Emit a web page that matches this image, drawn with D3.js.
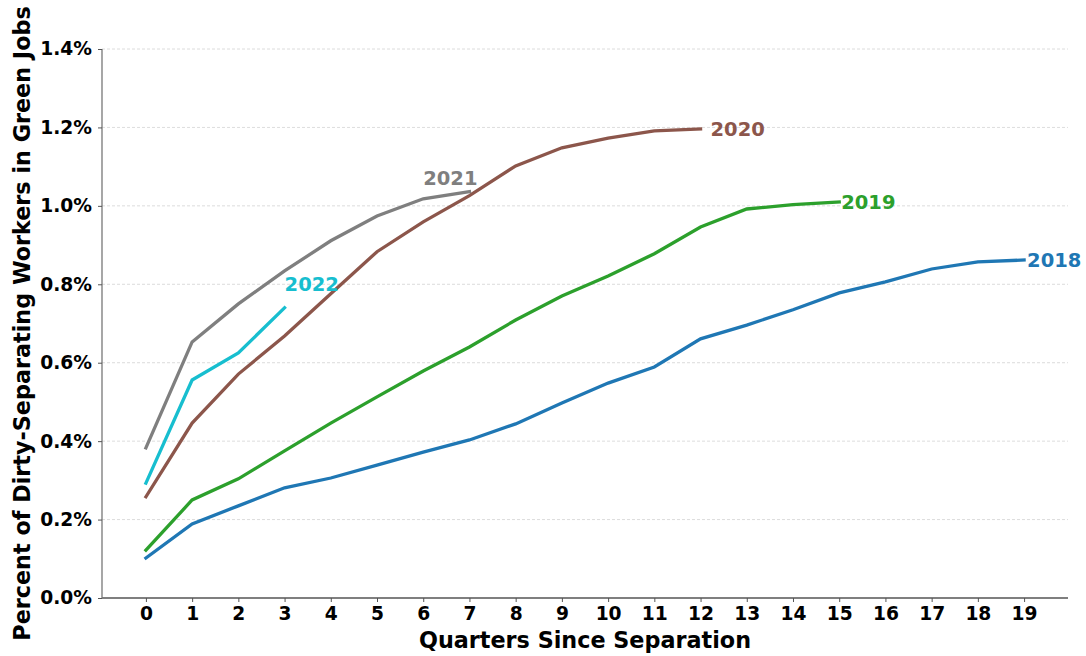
<!DOCTYPE html>
<html><head><meta charset="utf-8">
<script src="https://cdn.jsdelivr.net/npm/d3@7"></script>
<style>body{margin:0;background:#fff}svg{display:block}text{font-family:"DejaVu Sans",sans-serif;font-weight:bold}</style>
</head><body>
<svg id="c" width="1086" height="656"></svg>
<script>
const quarters = d3.range(0, 20);
const yTicks = [0, 0.2, 0.4, 0.6, 0.8, 1.0, 1.2, 1.4];
const s2018 = [0.102,0.189,0.235,0.281,0.306,0.339,0.372,0.403,0.444,0.497,0.548,0.589,0.661,0.696,0.735,0.778,0.806,0.839,0.857,0.862];
const s2019 = [0.122,0.250,0.304,0.375,0.446,0.513,0.579,0.640,0.709,0.770,0.821,0.878,0.946,0.992,1.003,1.010];
const s2020 = [0.258,0.446,0.571,0.668,0.776,0.883,0.959,1.026,1.102,1.148,1.173,1.191,1.196];
const s2021 = [0.383,0.653,0.750,0.834,0.911,0.974,1.018,1.036];
const s2022 = [0.293,0.556,0.625,0.740];
const seriesNames = ["2018","2019","2020","2021","2022"];
const seriesValues = [s2018, s2019, s2020, s2021, s2022];
const colors = ["#1f77b4","#2ca02c","#8c564b","#7f7f7f","#17becf"];

const svg = d3.select("#c");
const L = 102, R = 1068, T = 49, B = 598;
const x = d3.scaleLinear().domain([-0.95, 19.95]).range([L, R]);
const y = d3.scaleLinear().domain([0, 1.4]).range([B, T]);

// grid
svg.append("g").selectAll("line").data(yTicks.slice(1)).join("line")
  .attr("x1", L).attr("x2", R).attr("y1", d => y(d)).attr("y2", d => y(d))
  .attr("stroke", "#d3d3d3").attr("stroke-width", 0.8).attr("stroke-dasharray", "3,2");

// axes
const xa = svg.append("g").attr("transform", `translate(0,${B})`)
  .call(d3.axisBottom(x).tickValues(quarters).tickFormat(d3.format("d")).tickSize(4).tickPadding(5));
xa.select(".domain").attr("stroke", "#000").attr("stroke-width", 1.1).attr("d", `M${L},0H${R}`);
xa.selectAll(".tick line").attr("stroke", "#555");
xa.selectAll("text").style("font-size", "18.67px").style("fill", "#000").style("font-weight", "bold");

const ya = svg.append("g").attr("transform", `translate(${L},0)`)
  .call(d3.axisLeft(y).tickValues(yTicks).tickFormat(d => d.toFixed(1) + "%").tickSize(4).tickPadding(6));
ya.select(".domain").attr("stroke", "#777").attr("stroke-width", 1.3).attr("d", `M0,${B}V${T}`);
ya.selectAll(".tick line").attr("stroke", "#555");
ya.selectAll("text").style("font-size", "18.67px").style("fill", "#000").style("font-weight", "bold");

// lines
const line = d3.line().x((d, i) => x(i)).y(d => y(d));
seriesValues.forEach((vals, k) => {
  svg.append("path").datum(vals).attr("d", line)
    .attr("fill", "none").attr("stroke", colors[k]).attr("stroke-width", 3.3)
    .attr("stroke-linecap", "square");
});

// labels
const labelPos = [
  {dx: 3, dy: 0},
  {dx: 2, dy: 0},
  {dx: 10, dy: 0},
  {dx: 0, dy: -14, ox: -1},
  {dx: 0, dy: -24}
];
seriesValues.forEach((vals, k) => {
  const p = labelPos[k];
  const i = vals.length - 1 + (p.ox || 0);
  const v = vals[vals.length - 1];
  svg.append("text").attr("x", x(i) + p.dx).attr("y", y(v) + p.dy)
    .attr("dy", "0.35em").attr("text-anchor", "start")
    .style("font-size", "19.5px").style("fill", colors[k]).text(seriesNames[k]);
});

// titles
svg.append("text").attr("x", (L + R) / 2).attr("y", 648).attr("text-anchor", "middle")
  .style("font-size", "22.3px").style("fill", "#000").text("Quarters Since Separation");
svg.append("text").attr("transform", `translate(30,${(T + B) / 2}) rotate(-90)`)
  .attr("text-anchor", "middle").style("font-size", "22.3px").style("fill", "#000")
  .text("Percent of Dirty-Separating Workers in Green Jobs");
</script>
</body></html>
